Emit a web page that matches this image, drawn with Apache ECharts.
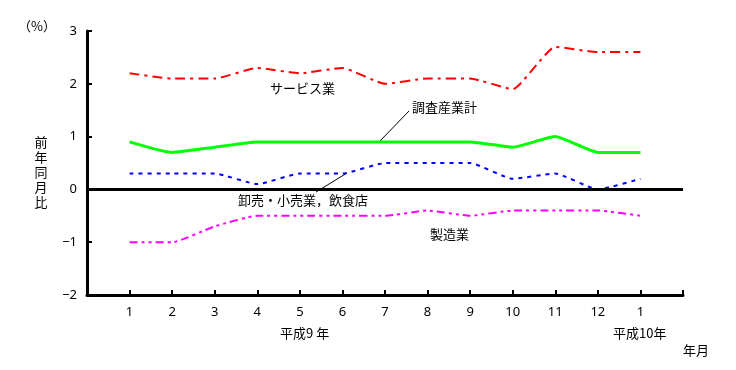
<!DOCTYPE html>
<html><head><meta charset="utf-8">
<script src="https://cdn.jsdelivr.net/npm/echarts@6/dist/echarts.min.js"></script>
<style>html,body{margin:0;padding:0;background:#fff}#c{width:736px;height:370px}</style>
</head><body><div id="c"></div>
<script>
const categories = ["", "1", "2", "3", "4", "5", "6", "7", "8", "9", "10", "11", "12", "1", ""];
const service = [null, 2.2, 2.1, 2.1, 2.3, 2.2, 2.3, 2.0, 2.1, 2.1, 1.9, 2.7, 2.6, 2.6, null];
const total = [null, 0.9, 0.7, 0.8, 0.9, 0.9, 0.9, 0.9, 0.9, 0.9, 0.8, 1.0, 0.7, 0.7, null];
const wholesale = [null, 0.3, 0.3, 0.3, 0.1, 0.3, 0.3, 0.5, 0.5, 0.5, 0.2, 0.3, 0.0, 0.2, null];
const manufacturing = [null, -1.0, -1.0, -0.7, -0.5, -0.5, -0.5, -0.5, -0.4, -0.5, -0.4, -0.4, -0.4, -0.5, null];
const seriesNames = ["サービス業", "調査産業計", "卸売・小売業，飲食店", "製造業"];

const FONT = '"Noto Sans CJK JP", "Noto Sans", sans-serif';
const DIGITS = '"Noto Sans", "DejaVu Sans", sans-serif';
const chart = echarts.init(document.getElementById('c'));
function txt(x, y, s, align) {
  return { type: 'text', x: x, y: y, style: { text: s, font: '13px ' + FONT, fill: '#000', textAlign: align || 'left', textVerticalAlign: 'middle' } };
}
chart.setOption({
  animation: false,
  grid: { left: 87, right: 53, top: 31, bottom: 75 },
  xAxis: {
    type: 'category', data: categories, boundaryGap: false,
    axisLine: { onZero: false, lineStyle: { color: '#000', width: 3 } },
    axisTick: { inside: true, length: 5, lineStyle: { color: '#000', width: 2 } },
    axisLabel: { color: '#000', fontSize: 13, fontFamily: DIGITS, margin: 11, interval: 0 },
    splitLine: { show: false }
  },
  yAxis: {
    type: 'value', min: -2, max: 3, interval: 1,
    axisLine: { show: true, lineStyle: { color: '#000', width: 3 } },
    axisTick: { show: true, inside: true, length: 5, lineStyle: { color: '#000', width: 2 } },
    axisLabel: { color: '#000', fontSize: 13, fontFamily: DIGITS, margin: 10, formatter: v => String(v).replace('-', '−') },
    splitLine: { show: false }
  },
  series: [
    { name: seriesNames[0], type: 'line', data: service, smooth: 0.15, showSymbol: false, lineStyle: { color: '#ff0000', width: 2, type: [10, 5, 3, 5] },
      markLine: { silent: true, symbol: 'none', label: { show: false }, lineStyle: { color: '#000', width: 3, type: 'solid' }, data: [{ yAxis: 0 }] } },
    { name: seriesNames[1], type: 'line', data: total, smooth: 0.15, showSymbol: false, lineStyle: { color: '#00ff00', width: 3, type: 'solid' } },
    { name: seriesNames[2], type: 'line', data: wholesale, smooth: 0.15, showSymbol: false, lineStyle: { color: '#0000ff', width: 2, type: [4, 5] } },
    { name: seriesNames[3], type: 'line', data: manufacturing, smooth: 0.15, showSymbol: false, lineStyle: { color: '#ff00ff', width: 2, type: [8, 4, 3, 4, 3, 4] } }
  ],
  graphic: [
    txt(18, 26, '（%）'),
    { type: 'text', x: 41, y: 134, style: { text: '前\n年\n同\n月\n比', font: '13px ' + FONT, fill: '#000', textAlign: 'center', lineHeight: 15.2 } },
    txt(270, 88, seriesNames[0]),
    txt(412, 107, seriesNames[1]),
    txt(238, 200, seriesNames[2]),
    txt(430, 234, seriesNames[3]),
    txt(280, 333, '平成9 年'),
    txt(613, 333, '平成10年'),
    txt(683, 350, '年月'),
    { type: 'line', shape: { x1: 380, y1: 141, x2: 409, y2: 111 }, style: { stroke: '#000', lineWidth: 1 } },
    { type: 'line', shape: { x1: 347, y1: 173, x2: 316, y2: 192 }, style: { stroke: '#000', lineWidth: 1 } }
  ]
});
</script></body></html>
